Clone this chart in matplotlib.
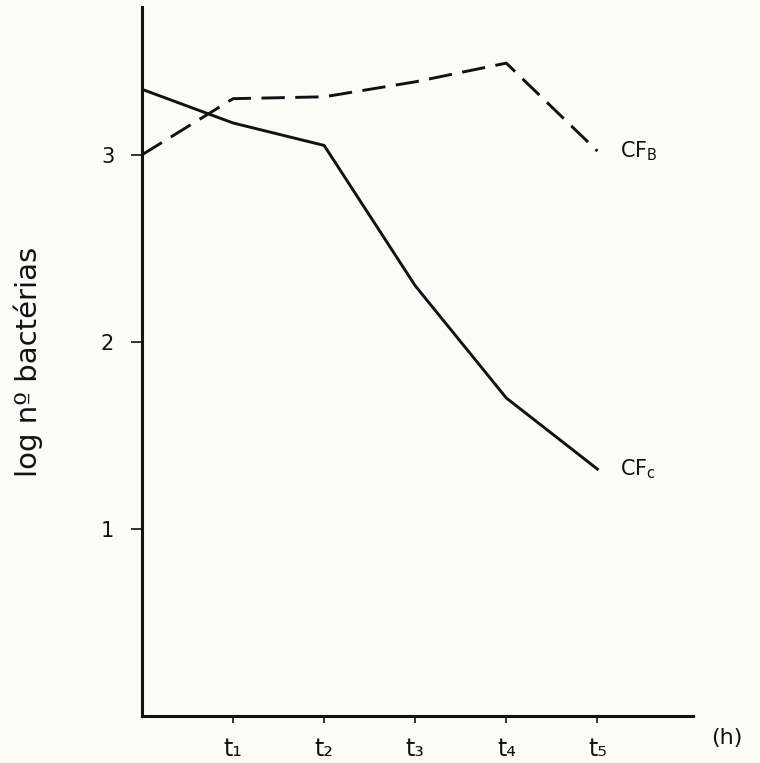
import numpy as np
import matplotlib
matplotlib.use('Agg')
import matplotlib.pyplot as plt

# values
times = [0, 1, 2, 3, 4, 5]
time_labels = ['t\u2081', 't\u2082', 't\u2083', 't\u2084', 't\u2085']
cfc = [3.35, 3.17, 3.05, 2.30, 1.70, 1.32]
cfb = [3.00, 3.30, 3.31, 3.39, 3.49, 3.02]
y_ticks = [1, 2, 3]

paper = '#fcfcf7'
ink = '#111111'

fig = plt.figure(figsize=(7.6, 7.63), dpi=100, facecolor=paper)
ax = fig.add_axes([142 / 760, 47 / 763, (693 - 142) / 760, (716 - 7) / 763])
ax.set_facecolor(paper)

ax.plot(times, cfc, color=ink, lw=2.1, solid_joinstyle='round')
ax.plot(times, cfb, color=ink, lw=2.1, linestyle=(0, (8, 3.6)))

ax.set_xlim(0, 6.05)
ax.set_ylim(0, 3.79)

for s in ['top', 'right']:
    ax.spines[s].set_visible(False)
for s in ['left', 'bottom']:
    ax.spines[s].set_linewidth(2.2)
    ax.spines[s].set_color(ink)

ax.set_xticks(times[1:])
ax.set_xticklabels(time_labels, fontsize=17)
ax.set_yticks(y_ticks)
ax.set_yticklabels([str(v) for v in y_ticks], fontsize=15)
ax.tick_params(axis='y', direction='out', length=8, width=1.2, pad=12, colors=ink)
ax.tick_params(axis='x', direction='out', length=5, width=1.2, pad=10, colors=ink)

ax.set_ylabel('log n\u00ba bact\u00e9rias', fontsize=21, color=ink, labelpad=42)

ax.text(6.25, -0.12, '(h)', fontsize=16, color=ink, ha='left', va='center', clip_on=False)
ax.text(5.25, cfb[-1], r'CF$_\mathrm{B}$', fontsize=15, color=ink, ha='left', va='center')
ax.text(5.25, cfc[-1], r'CF$_\mathrm{c}$', fontsize=15, color=ink, ha='left', va='center')

fig.savefig('out.png', dpi=100, facecolor=paper)
